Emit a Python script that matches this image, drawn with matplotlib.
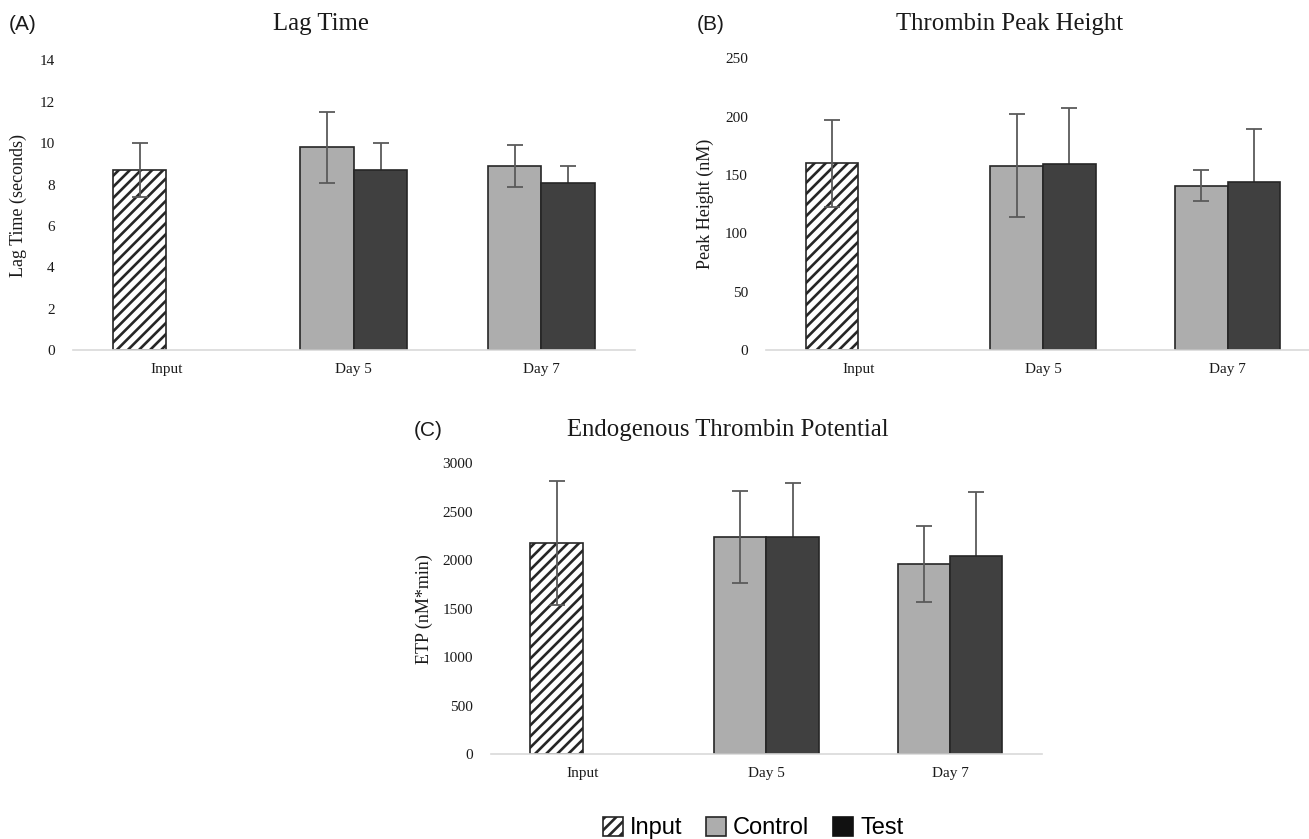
import numpy as np
import matplotlib
matplotlib.use("Agg")
import matplotlib.pyplot as plt
from matplotlib.patches import Patch

plt.rcParams['hatch.linewidth'] = 1.9
plt.rcParams['hatch.color'] = '#6a6a6a'

# data
categories = ['Input', 'Day 5', 'Day 7']

lag_input, lag_input_sd = 8.7, 1.3
lag_control = [9.8, 8.9]
lag_control_sd = [1.7, 1.0]
lag_test = [8.7, 8.1]
lag_test_sd = [1.3, 0.8]

peak_input, peak_input_sd = 160, 37
peak_control = [158, 141]
peak_control_sd = [44, 13]
peak_test = [159, 144]
peak_test_sd = [48, 45]

etp_input, etp_input_sd = 2180, 640
etp_control = [2240, 1960]
etp_control_sd = [470, 395]
etp_test = [2240, 2045]
etp_test_sd = [555, 660]

W, H = 1309, 839
fig = plt.figure(figsize=(W / 100, H / 100), dpi=100)

serif = 'Liberation Serif'
sans = 'Liberation Sans'
ctrl_col = '#adadad'
test_col = '#404040'
edge_col = '#262626'
err_col = '#5a5a5a'
bw = 0.285


def panel(rect, inp, inp_sd, ctrl, ctrl_sd, test, test_sd, ymax, ystep, ylabel, ylab_x):
    ax = fig.add_axes(rect)
    x = np.arange(len(categories))
    # input bar sits in the left slot of its category
    ax.bar(x[0] - bw / 2, inp, bw, facecolor='white', edgecolor=edge_col,
           hatch='///', linewidth=1.2, zorder=2)
    ax.errorbar(x[0] - bw / 2, inp, yerr=inp_sd, fmt='none', ecolor=err_col,
                elinewidth=1.3, capsize=6, capthick=1.3, zorder=3)
    ax.bar(x[1:] - bw / 2, ctrl, bw, color=ctrl_col, edgecolor=edge_col,
           linewidth=1.2, zorder=2)
    ax.errorbar(x[1:] - bw / 2, ctrl, yerr=ctrl_sd, fmt='none', ecolor=err_col,
                elinewidth=1.3, capsize=6, capthick=1.3, zorder=3)
    ax.bar(x[1:] + bw / 2, test, bw, color=test_col, edgecolor=edge_col,
           linewidth=1.2, zorder=2)
    ax.errorbar(x[1:] + bw / 2, test, yerr=test_sd, fmt='none', ecolor=err_col,
                elinewidth=1.3, capsize=6, capthick=1.3, zorder=1)

    ax.set_xlim(-0.5, 2.5)
    ax.set_ylim(0, ymax)
    ax.set_yticks(np.arange(0, ymax + ystep / 2, ystep))
    ax.set_xticks(x)
    ax.set_xticklabels(categories)
    for s in ['top', 'right', 'left']:
        ax.spines[s].set_visible(False)
    ax.spines['bottom'].set_color('#d9d9d9')
    ax.spines['bottom'].set_linewidth(1.2)
    ax.tick_params(axis='both', length=0, labelsize=11, colors='#1a1a1a')
    ax.tick_params(axis='y', pad=13)
    ax.tick_params(axis='x', pad=9)
    for lab in ax.get_xticklabels() + ax.get_yticklabels():
        lab.set_fontfamily(serif)
    ax.set_ylabel(ylabel, fontsize=13, family=serif, color='#1a1a1a')
    ax.yaxis.set_label_coords(ylab_x, 0.5)
    return ax


panel([0.0555, 0.5828, 0.4296, 0.3451], lag_input, lag_input_sd,
      lag_control, lag_control_sd, lag_test, lag_test_sd,
      14, 2, 'Lag Time (seconds)', -0.081)
panel([0.5852, 0.5828, 0.4232, 0.3477], peak_input, peak_input_sd,
      peak_control, peak_control_sd, peak_test, peak_test_sd,
      250, 50, 'Peak Height (nM)', -0.094)
panel([0.3751, 0.1010, 0.4209, 0.3468], etp_input, etp_input_sd,
      etp_control, etp_control_sd, etp_test, etp_test_sd,
      3000, 500, 'ETP (nM*min)', -0.105)

# titles and panel letters
titles = [('(A)', 9, 24, 'Lag Time', 321, 24),
          ('(B)', 697, 24, 'Thrombin Peak Height', 1010, 24),
          ('(C)', 414, 430, 'Endogenous Thrombin Potential', 728, 430)]
for letter, lx, ly, title, tx, ty in titles:
    fig.text(lx / W, 1 - ly / H, letter, family=sans, fontsize=15,
             ha='left', va='center', color='#1a1a1a')
    fig.text(tx / W, 1 - ty / H, title, family=serif, fontsize=17.8,
             ha='center', va='center', color='#1a1a1a')

handles = [Patch(facecolor='white', edgecolor=edge_col, hatch='///', linewidth=1.2),
           Patch(facecolor=ctrl_col, edgecolor=edge_col, linewidth=1.2),
           Patch(facecolor='#111111', edgecolor='#111111', linewidth=1.2)]
fig.legend(handles, ['Input', 'Control', 'Test'], loc='center',
           bbox_to_anchor=(753 / W, 1 - 828 / H), ncol=3, frameon=False,
           prop={'family': sans, 'size': 17}, handlelength=0.85,
           handleheight=0.85, handletextpad=0.3, columnspacing=1.0)

fig.savefig('out.png', dpi=100)
